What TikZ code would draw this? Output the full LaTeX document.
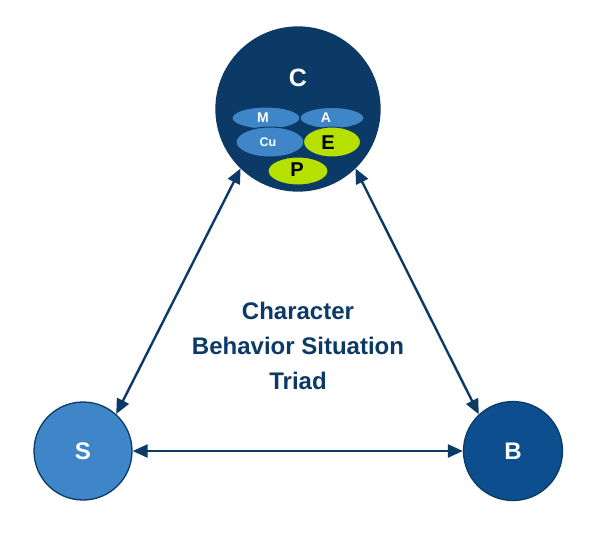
\documentclass[tikz,border=0pt]{standalone}
\usepackage{fontspec}
\setmainfont{Liberation Sans}
\usetikzlibrary{arrows.meta,shapes.geometric}
\definecolor{navy}{HTML}{0B3A66}
\definecolor{lightblue}{HTML}{3F86C8}
\definecolor{midblue}{HTML}{0D4F8E}
\definecolor{lime}{HTML}{B5E000}
\begin{document}
\begin{tikzpicture}[x=1pt,y=-1pt,
  bigc/.style={circle,draw=navy,line width=1.3pt,inner sep=0pt,text=white,font=\bfseries\fontsize{24}{24}\selectfont},
  sub/.style={ellipse,draw=navy,line width=1pt,inner sep=0pt},
  subtxt/.style={font=\bfseries\fontsize{14}{14}\selectfont},
  bigtxt/.style={font=\bfseries\fontsize{20}{20}\selectfont,text=black},
  conn/.style={draw=navy,line width=2.4pt,{Triangle[length=15pt,width=13pt]}-{Triangle[length=15pt,width=13pt]}}]
\useasboundingbox (0,0) rectangle (596,539);
\node[bigc,fill=navy,minimum size=164pt] (C) at (298,109) {};
\node[text=white,font=\bfseries\fontsize{25}{25}\selectfont] (Cl) at (298,78) {C};
\node[sub,fill=lightblue,minimum width=68pt,minimum height=22pt] (M) at (266,118) {};
\node[sub,fill=lightblue,minimum width=64pt,minimum height=21pt] (A) at (332,118) {};
\node[text=white,subtxt] (Ml) at (263,118) {M};
\node[text=white,subtxt] (Al) at (326,118) {A};
\node[sub,fill=lightblue,minimum width=68pt,minimum height=30pt] (Cu) at (270,142) {};
\node[text=white,font=\bfseries\fontsize{12.5}{12.5}\selectfont] (Cul) at (268,142) {Cu};
\node[sub,fill=lime,minimum width=57pt,minimum height=30pt] (E) at (332,142) {};
\node[bigtxt] (El) at (328,143) {E};
\node[sub,fill=lime,minimum width=60pt,minimum height=28pt] (P) at (298,171) {};
\node[bigtxt] (Pl) at (297,170) {P};
\node[bigc,fill=lightblue,minimum size=98pt] (S) at (83,451) {S};
\node[bigc,fill=midblue,minimum size=99pt] (B) at (513,451) {B};
\node[text=navy,font=\bfseries\fontsize{24}{35}\selectfont,align=center] (T) at (298,346) {Character\\Behavior Situation\\Triad};
\draw[conn] (C.226) -- (S.48);
\draw[conn] (C.314) -- (B.133);
\draw[conn] (S) -- (B);
\end{tikzpicture}
\end{document}
